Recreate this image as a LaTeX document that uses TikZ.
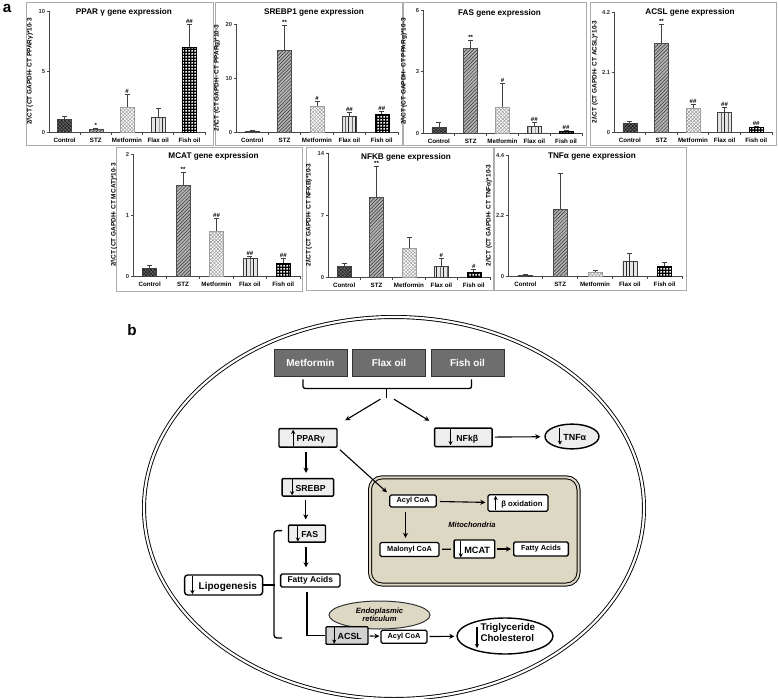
\documentclass[tikz,border=0pt]{standalone}
\usepackage{fontspec}
\setmainfont{Liberation Sans}
\usetikzlibrary{arrows.meta,patterns,shapes.geometric,positioning}
\newlength\pu
\setlength\pu{0.03cm}
\definecolor{drug}{HTML}{6E6E6E}
\definecolor{mito}{HTML}{DDD8C4}
\definecolor{boxgray}{HTML}{EEEEEE}
\definecolor{acslgray}{HTML}{D2D2D2}
\pgfdeclarepatternformonly{fishdots}{\pgfqpoint{0pt}{0pt}}{\pgfqpoint{2.6pt}{2.6pt}}{\pgfqpoint{2.6pt}{2.6pt}}{\pgfpathrectangle{\pgfqpoint{0.5pt}{0.5pt}}{\pgfqpoint{1.6pt}{1.6pt}}\pgfusepath{fill}}
\newcommand{\arrdn}[1][2.6ex]{\tikz[baseline=0pt]\draw[-{Stealth[length=3.6pt,width=3.6pt]},line width=0.9pt] (0,#1) -- (0,-0.9ex);\kern1.2pt}
\newcommand{\arrup}[1][2.6ex]{\tikz[baseline=0pt]\draw[-{Stealth[length=3.6pt,width=3.6pt]},line width=0.9pt] (0,-0.9ex) -- (0,#1);\kern1.2pt}
\newcommand{\chart}[9]{%
  \draw[panel] #9;
  \pgfmathsetmacro\xo{#1}\pgfmathsetmacro\yo{#2}\pgfmathsetmacro\cw{(#4-#1)/5}
  \node[charttitle] at ({(#1+#4)/2-3},{#2-120}) {#8};
  \draw[axisline] (#1,#3) -- (#1,#2) -- (#4,#2);
  \foreach \ty/\tl in {#3/#5,{(#2+#3)/2}/#6,#2/0}
    \draw[axisline] (#1,{\ty}) -- ++(-2.5,0) node[tickno] {\tl};
  \foreach \cat [count=\i] in {Control,STZ,Metformin,Flax oil,Fish oil}{
    \draw[axisline] ({#1+\i*\cw},#2) -- ++(0,2.5);
    \node[catname] at ({#1+(\i-0.5)*\cw},#2+8) {\cat};}
  \node[ylab] at (#1-19,{(#2+#3)/2}) {2/\textbackslash CT (CT GAPDH- CT #7)*10-3};
}
\newcommand{\bars}[1]{%
  \foreach \bt/\be/\bs [count=\i] in {#1}{
    \pgfmathsetmacro\cx{\xo+(\i-0.5)*\cw}
    \draw[bar\i] (\cx-7,\yo) rectangle (\cx+7,\bt);
    \draw[errbar] (\cx,\bt) -- (\cx,\be) (\cx-2.5,\be) -- (\cx+2.5,\be);
    \node[sigtext] at (\cx,\be) {\bs};}}
\tikzset{
  panel/.style={draw=gray!65, line width=1\pu},
  axisline/.style={draw=gray!55!black, line width=0.7\pu},
  errbar/.style={draw=gray!50!black, line width=0.7\pu},
  bar1/.style={draw=black!75, line width=0.6\pu, preaction={fill=black!60}, pattern=crosshatch, pattern color=black!90},
  bar2/.style={draw=black!70, line width=0.6\pu, preaction={fill=gray!60}, pattern=north east lines, pattern color=black!80},
  bar3/.style={draw=gray!75, line width=0.6\pu, preaction={fill=white}, pattern=crosshatch, pattern color=gray!80},
  bar4/.style={draw=black!75, line width=0.6\pu, preaction={fill=gray!20}, pattern=vertical lines, pattern color=black!85},
  bar5/.style={draw=black, line width=0.6\pu, preaction={fill=black}, pattern=fishdots, pattern color=white},
  charttitle/.style={font=\fontsize{7}{8}\selectfont\bfseries},
  tickno/.style={anchor=east, inner sep=1\pu, font=\fontsize{5}{6}\selectfont\bfseries, text=black!80},
  catname/.style={font=\fontsize{5.3}{6}\selectfont\bfseries},
  ylab/.style={rotate=90, font=\fontsize{5.5}{6}\selectfont\bfseries},
  sigtext/.style={anchor=south, inner sep=0.5\pu, font=\fontsize{5.2}{6}\selectfont\bfseries},
  panelletter/.style={font=\fontsize{13}{14}\selectfont\bfseries},
  drugbox/.style={draw=black!80, fill=drug, text=white, line width=1\pu, minimum width=73\pu, minimum height=27\pu, inner sep=0pt, font=\fontsize{8.5}{9}\selectfont\bfseries},
  genebox/.style={draw=black, fill=boxgray, line width=1.4\pu, rounded corners=1\pu, inner sep=0pt, font=\fontsize{7.4}{8}\selectfont\bfseries},
  smallbox/.style={draw=black, fill=white, line width=1.3\pu, rounded corners=1.5\pu, inner sep=0pt, font=\fontsize{6.3}{7}\selectfont\bfseries},
  flow/.style={-{Stealth[length=4.3pt,width=4.3pt]}, line width=1.1\pu, shorten <=3\pu, shorten >=3\pu},
  link/.style={line width=1.3\pu},
}
\begin{document}
\begin{tikzpicture}[x=0.03cm, y=-0.03cm]
\useasboundingbox (0,0) rectangle (778,699);
\node[panelletter] (la) at (7,8) {a};
\chart{49}{132}{11}{205}{10}{5}{PPARγ}{PPAR γ gene expression}{(26,2) rectangle (213,145)}
\bars{119/116/{}, 129/128/*, 107/94/\#, 117/108/{}, 47/24/\#\#}
\chart{236}{132}{24}{398}{20}{10}{PPARg}{SREBP1 gene expression}{(215,2) rectangle (402,145)}
\bars{131/130/{}, 50/25/**, 106/101/\#, 116/112/\#\#, 114/111/\#\#}
\chart{423}{133}{10}{582}{6}{3}{PPARg}{FAS gene expression}{(403,2) rectangle (586,145)}
\bars{127/122/{}, 48/40/**, 107/83/\#, 126/122/\#\#, 131/130/\#\#}
\chart{614}{132}{12}{772}{4.2}{2.1}{ACSL}{ACSL gene expression}{(590,2) rectangle (776,145)}
\bars{123/121/{}, 43/24/**, 108/104/\#\#, 112/107/\#\#, 127/126/\#\#}
\chart{133}{276}{154}{300}{2}{1}{MCAT}{MCAT gene expression}{(116,147) rectangle (302,291)}
\bars{268/265/{}, 185/172/**, 231/218/\#\#, 258/256/\#\#, 263/258/\#\#}
\chart{328}{277}{153}{490}{14}{7}{NFKB}{NFKB gene expression}{(306,147) rectangle (493,290)}
\bars{266/263/{}, 197/166/**, 248/237/{}, 266/258/\#, 272/269/\#}
\chart{508}{276}{155}{682}{4.4}{2.2}{TNFα}{TNFα gene expression}{(494,147) rectangle (686,290)}
\bars{275/274/{}, 209/173/{}, 272/270/{}, 261/253/{}, 266/262/{}}

\node[panelletter] (lb) at (132,330) {b};
\draw[double, double distance=2.2\pu, line width=0.9\pu] (394,508) ellipse [x radius=250\pu, y radius=191\pu];
\node[drugbox] (met) at (310.5,363.4) {Metformin};
\node[drugbox, right=4.5\pu of met] (flax) {Flax oil};
\node[drugbox, right=4.5\pu of flax] (fish) {Fish oil};
\draw[link, rounded corners=2\pu] ([shift={(-7.5,2)}]met.south) -- ++(0,9) -| ([shift={(4,2)}]fish.south);
\coordinate (tip) at (386.8,397.6);
\draw[link] (tip) -- ++(0,-9.6);

\node[genebox, minimum width=58\pu, minimum height=18.5\pu] (ppar) at (308,437.8) {\arrup PPARγ};
\node[genebox, minimum width=57.5\pu, minimum height=18.5\pu] (nfkb) at (463.3,437.3) {\arrdn\ NFkβ};
\node[genebox, ellipse, minimum width=54\pu, minimum height=21\pu, font=\fontsize{7.6}{8}\selectfont\bfseries] (tnfa) at (572,436.5) {\arrdn TNFα};
\node[genebox, minimum width=51.5\pu, minimum height=17.5\pu] (srebp) at (307.8,487.3) {\arrdn SREBP};
\node[genebox, minimum width=37\pu, minimum height=16\pu] (fas) at (307,533.6) {\arrdn FAS};
\node[smallbox, minimum width=59.4\pu, minimum height=13\pu, font=\fontsize{7.2}{8}\selectfont\bfseries] (fattyl) at (310.3,580.5) {Fatty Acids};
\node[genebox, fill=white, rounded corners=3\pu, minimum width=78\pu, minimum height=20\pu, font=\fontsize{8.5}{9}\selectfont\bfseries] (lipo) at (223.6,585) {\arrdn\ Lipogenesis};

\draw[double=mito, double distance=2\pu, line width=1\pu, fill=mito, rounded corners=12\pu] (370,477.4) rectangle (578.5,584.5);
\node[smallbox, minimum width=46.4\pu, minimum height=12\pu] (acylm) at (413,501) {Acyl CoA};
\node[smallbox, minimum width=60\pu, minimum height=16.5\pu, font=\fontsize{6.6}{7}\selectfont\bfseries] (betaox) at (518,503) {\arrup\ β oxidation};
\node[font=\fontsize{6.4}{7}\selectfont\bfseries\itshape] (mitolabel) at (472,524.6) {Mitochondria};
\node[smallbox, minimum width=59\pu, minimum height=14\pu] (malonyl) at (409.5,549.5) {Malonyl CoA};
\node[genebox, fill=white, minimum width=40.7\pu, minimum height=17\pu, font=\fontsize{7.8}{8}\selectfont\bfseries] (mcat) at (474.4,549) {\arrdn MCAT};
\node[smallbox, minimum width=54.7\pu, minimum height=14\pu] (fattym) at (541,549) {Fatty Acids};

\node[draw=black!80, fill=mito, ellipse, line width=1\pu, minimum width=101\pu, minimum height=28\pu, inner sep=0pt, align=center, font=\fontsize{6.5}{7}\selectfont\bfseries\itshape] (er) at (379.5,615) {Endoplasmic\\reticulum};
\node[genebox, fill=acslgray, minimum width=42\pu, minimum height=16\pu, font=\fontsize{7.6}{8}\selectfont\bfseries] (acsl) at (347,635.5) {\arrdn ACSL};
\node[smallbox, minimum width=46\pu, minimum height=13\pu] (acyler) at (404,636.7) {Acyl CoA};
\node[draw=black, fill=white, ellipse, line width=1.4\pu, minimum width=96\pu, minimum height=36\pu, inner sep=0pt, font=\fontsize{8.3}{9}\selectfont\bfseries] (tg) at (505,636) {\raisebox{-1.4ex}{\arrdn[3.2ex]}\begin{tabular}{@{}l@{}}Triglyceride\\Cholesterol\end{tabular}};

\draw[flow] ([shift={(-3.8,0)}]tip) -- ([shift={(5,-6)}]ppar.north east);
\draw[flow] ([shift={(4.6,0)}]tip) -- ([shift={(-2,-5)}]nfkb.north west);
\draw[flow, shorten <=2\pu, shorten >=4\pu] (nfkb) -- (tnfa);
\draw[flow, shorten <=4.5\pu, shorten >=5\pu] ([xshift=-2\pu]ppar.south) -- ([xshift=-2\pu]ppar.south |- srebp.north);
\draw[flow, shorten <=3.7\pu, shorten >=5\pu] ([xshift=-2\pu]srebp.south) -- ([xshift=-2\pu]srebp.south |- fas.north);
\draw[flow, shorten <=4\pu, shorten >=6\pu] ([xshift=-1\pu]fas.south) -- ([xshift=-1\pu]fas.south |- fattyl.north);
\draw[link, shorten <=4\pu] ([xshift=-3.3\pu]fattyl.south) |- (acsl.west);
\draw[flow, shorten <=1\pu, shorten >=1\pu] (acsl) -- (acyler);
\draw[flow, shorten <=2\pu, shorten >=2\pu] (acyler) -- (tg);
\draw[flow] (ppar.south east) -- (acylm.north west);
\draw[flow, shorten <=3\pu, shorten >=2\pu] (acylm) -- (betaox);
\draw[flow, shorten <=4\pu, shorten >=4\pu] ([xshift=-7.5\pu]acylm.south) -- ([xshift=-7.5\pu]acylm.south |- malonyl.north);
\draw[link, shorten <=2.5\pu, shorten >=2.5\pu] (malonyl) -- (mcat);
\draw[flow, shorten <=2\pu, shorten >=2\pu] (mcat) -- (fattym);
\coordinate (brtop) at (282,530.6);
\coordinate (brbot) at (282,638);
\draw[link, rounded corners=3\pu] (brtop) -- ++(-8,0) -- ([xshift=-8\pu]brbot) -- (brbot);
\draw[link] (lipo.east) -- ++(11.3,0);
\end{tikzpicture}
\end{document}
